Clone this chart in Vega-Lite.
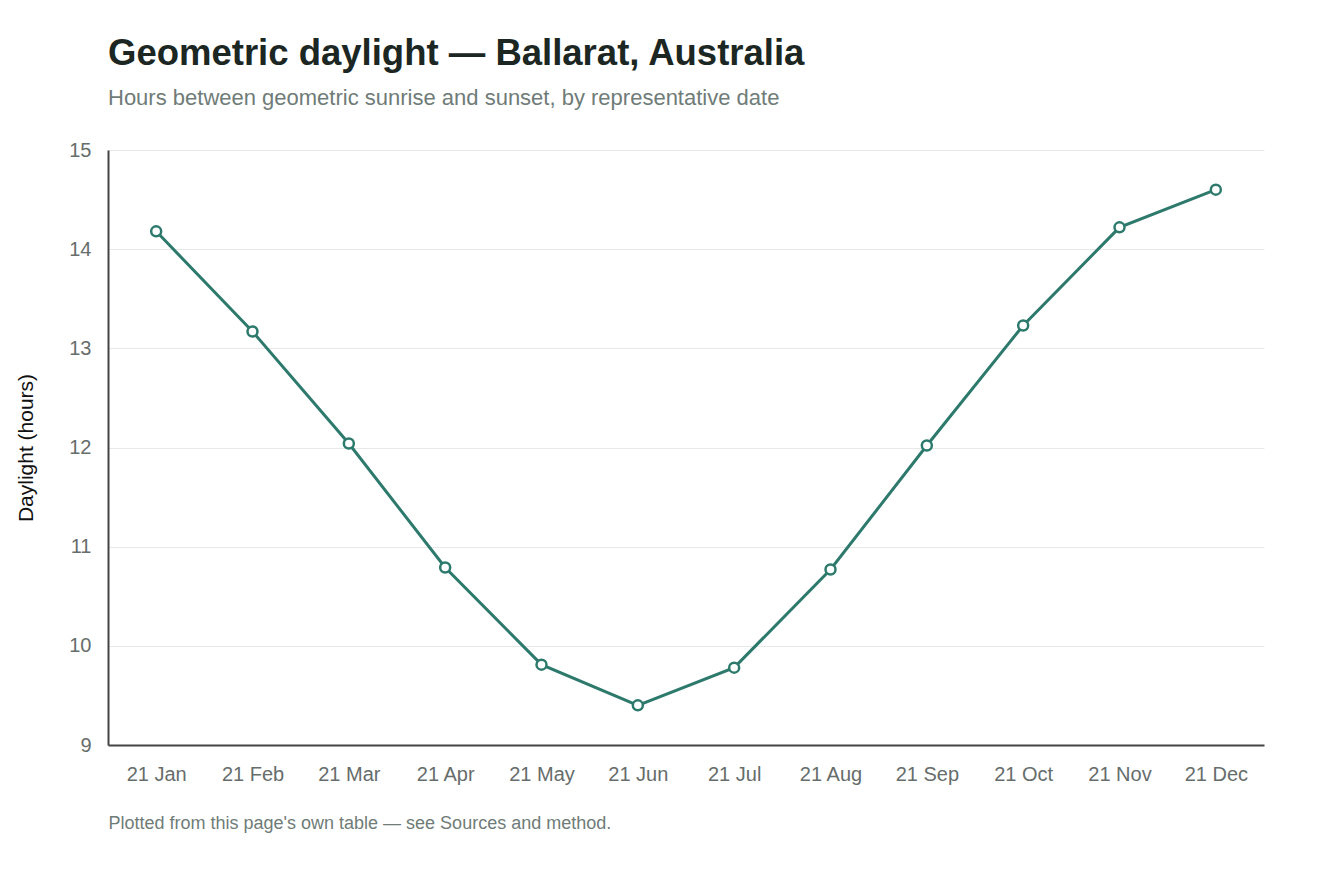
{
  "$schema": "https://vega.github.io/schema/vega-lite/v6.json",
  "width": 1156,
  "height": 595,
  "autosize": "none",
  "padding": {"left": 108, "top": 150, "right": 80, "bottom": 151},
  "background": "white",
  "title": {
    "text": "Geometric daylight — Ballarat, Australia",
    "subtitle": "Hours between geometric sunrise and sunset, by representative date",
    "anchor": "start",
    "frame": "group",
    "font": "Liberation Sans",
    "fontSize": 36.5,
    "fontWeight": "bold",
    "color": "#1c2723",
    "subtitleFont": "Liberation Sans",
    "subtitleFontSize": 22,
    "subtitleColor": "#6f7c78",
    "subtitlePadding": 16,
    "offset": 31
  },
  "data": {
    "values": [
      {"date": "21 Jan", "hours": 14.18},
      {"date": "21 Feb", "hours": 13.17},
      {"date": "21 Mar", "hours": 12.04},
      {"date": "21 Apr", "hours": 10.79},
      {"date": "21 May", "hours": 9.81},
      {"date": "21 Jun", "hours": 9.4},
      {"date": "21 Jul", "hours": 9.78},
      {"date": "21 Aug", "hours": 10.77},
      {"date": "21 Sep", "hours": 12.02},
      {"date": "21 Oct", "hours": 13.23},
      {"date": "21 Nov", "hours": 14.22},
      {"date": "21 Dec", "hours": 14.6}
    ]
  },
  "encoding": {
    "x": {
      "field": "date",
      "type": "ordinal",
      "sort": null,
      "scale": {"type": "point", "padding": 0.5},
      "title": "Plotted from this page's own table — see Sources and method.",
      "axis": {
        "labelAngle": 0,
        "labelPadding": 19,
        "labelFontSize": 20,
        "labelColor": "#666d6b",
        "ticks": false,
        "domainColor": "#444444",
        "domainWidth": 2,
        "titleAnchor": "start",
        "titleAlign": "left",
        "titleX": 0,
        "titleY": 83,
        "titleBaseline": "alphabetic",
        "titleFontSize": 18,
        "titleFontWeight": "normal",
        "titleColor": "#6f7c78"
      }
    },
    "y": {
      "field": "hours",
      "type": "quantitative",
      "scale": {"domain": [9, 15], "nice": false, "zero": false},
      "title": "Daylight (hours)",
      "axis": {
        "values": [9, 10, 11, 12, 13, 14, 15],
        "ticks": false,
        "labelPadding": 17,
        "labelFontSize": 20,
        "labelColor": "#666d6b",
        "domainColor": "#444444",
        "domainWidth": 2,
        "grid": true,
        "gridColor": "#e6e9e7",
        "titleFontSize": 21,
        "titleFontWeight": "normal",
        "titleColor": "#111111",
        "titlePadding": 32
      }
    }
  },
  "layer": [
    {"mark": {"type": "line", "color": "#2d7a6d", "strokeWidth": 3}},
    {"mark": {"type": "point", "filled": true, "fill": "white", "stroke": "#2d7a6d", "strokeWidth": 2.5, "size": 100, "opacity": 1}}
  ],
  "config": {
    "font": "Liberation Sans",
    "view": {"stroke": null}
  }
}
